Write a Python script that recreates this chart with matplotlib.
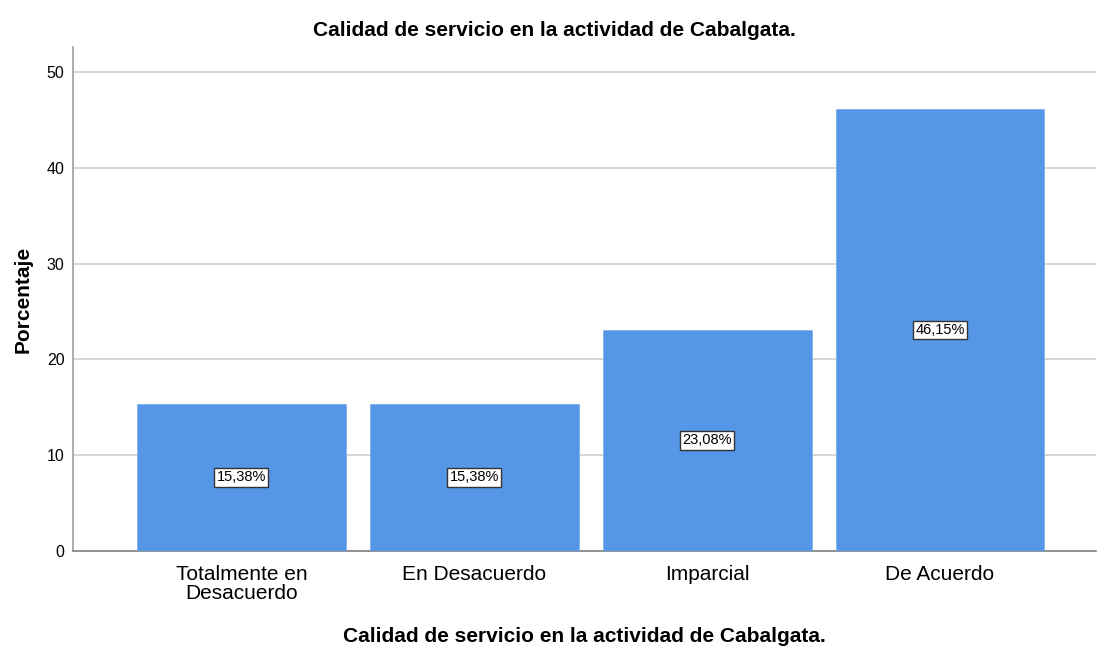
import matplotlib
matplotlib.use("Agg")
import matplotlib.pyplot as plt


categorias = ["Totalmente en\nDesacuerdo", "En Desacuerdo", "Imparcial", "De Acuerdo"]
porcentajes = [15.38, 15.38, 23.08, 46.15]
etiquetas = ["15,38%", "15,38%", "23,08%", "46,15%"]
ticks_y = [0, 10, 20, 30, 40, 50]

titulo = "Calidad de servicio en la actividad de Cabalgata."


fig = plt.figure(figsize=(10.97, 6.46), dpi=100)
ax = fig.add_axes([0.0665, 0.147, 0.933, 0.78])

x = list(range(len(categorias)))

ax.bar(
    x,
    porcentajes,
    width=0.897,
    color="#5596E6",
    edgecolor="#7FB0EC",
    linewidth=0.6,
    zorder=3
)

for xi, v, lab in zip(x, porcentajes, etiquetas):
    ax.text(
        xi,
        v / 2,
        lab,
        ha="center",
        va="center",
        fontsize=10.5,
        family="Liberation Sans",
        zorder=4,
        bbox=dict(boxstyle="square,pad=0.15", facecolor="white", edgecolor="#333333", linewidth=1)
    )

ax.set_xlim(-0.723, 3.672)
ax.set_ylim(0, 52.6)
ax.set_yticks(ticks_y)
ax.set_yticklabels([str(t) for t in ticks_y], fontsize=11.5, family="Liberation Sans")
ax.set_xticks(x)
ax.set_xticklabels(categorias, fontsize=15, family="Liberation Sans", linespacing=1.0)

ax.yaxis.grid(True, color="#D0D0D0", linewidth=1.2, zorder=0)
ax.tick_params(axis="y", length=0, pad=6)
ax.tick_params(axis="x", length=0, pad=10)

for side in ["top", "right"]:
    ax.spines[side].set_visible(False)
ax.spines["left"].set_color("#A0A0A0")
ax.spines["bottom"].set_color("#808080")
ax.spines["left"].set_linewidth(1.2)
ax.spines["bottom"].set_linewidth(1.2)

fig.text(0.505, 0.953, titulo, ha="center", va="center",
         fontsize=15, fontweight="bold", family="Liberation Sans")
ax.set_ylabel("Porcentaje", fontsize=15, fontweight="bold", family="Liberation Sans", labelpad=10)
ax.set_xlabel(titulo, fontsize=15, fontweight="bold", family="Liberation Sans", labelpad=17)

fig.savefig("out.png", dpi=100)
